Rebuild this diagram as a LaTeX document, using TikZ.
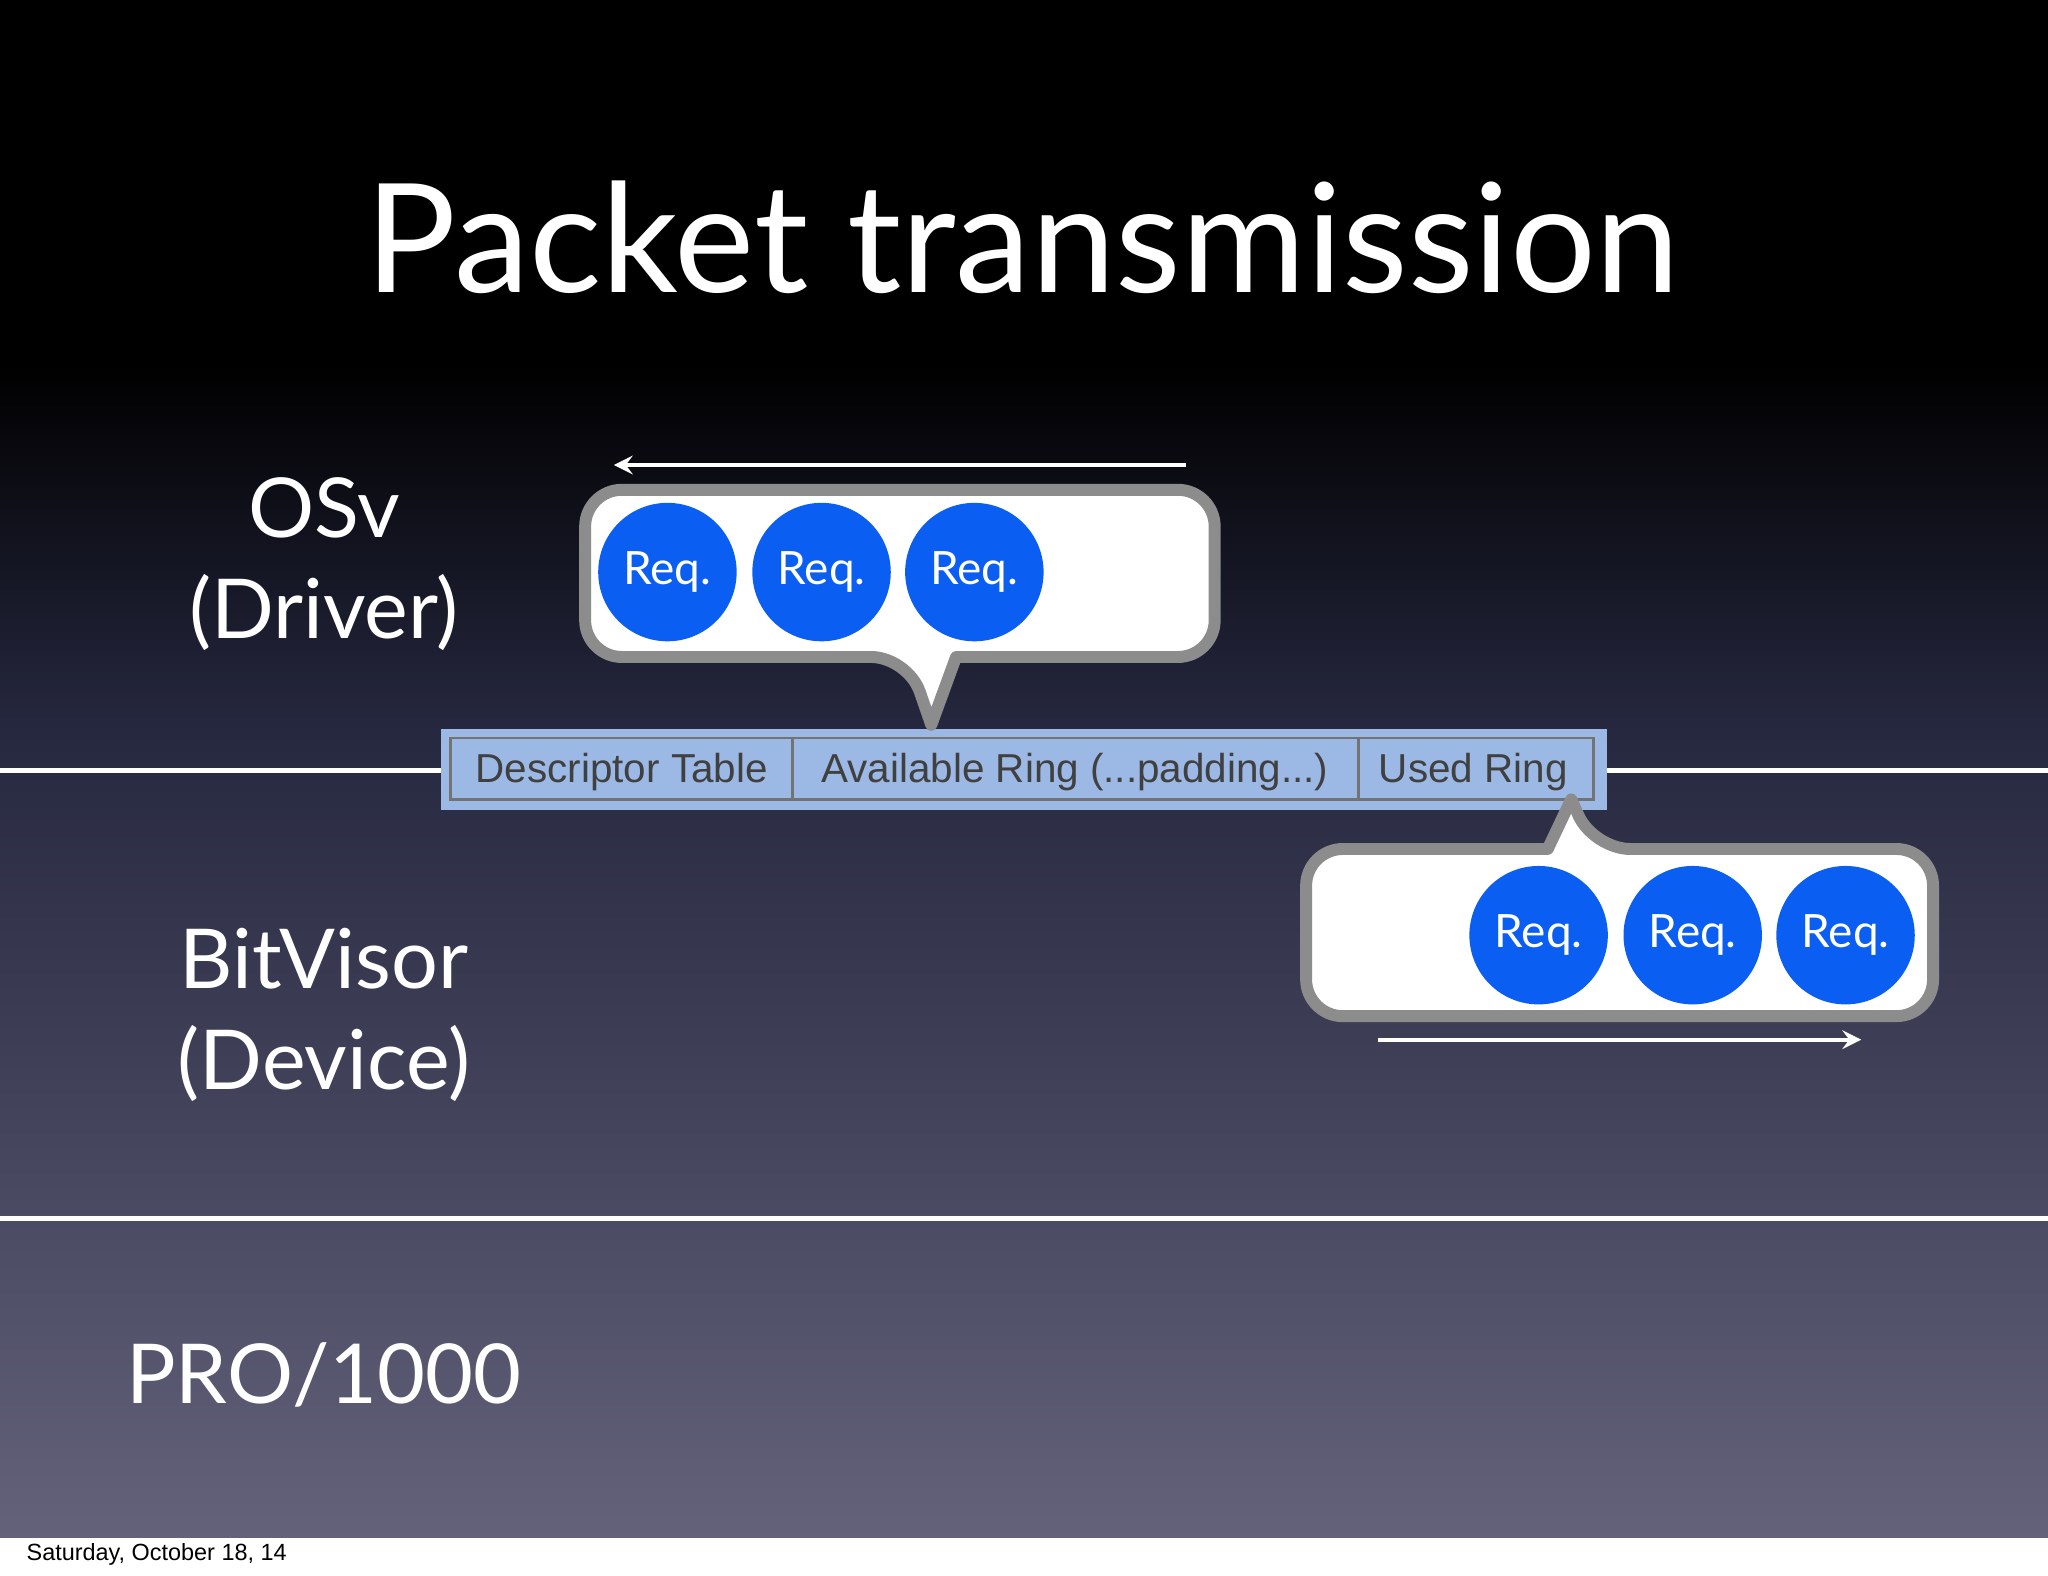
\documentclass[tikz,border=0pt]{standalone}
\usepackage{fontspec}
\setmainfont{Lato}
\newfontfamily\arialf{Liberation Sans}
\begin{document}
\begin{tikzpicture}[x=0.01cm,y=-0.01cm,
  lbl/.style={text=white,font=\fontsize{18}{22}\selectfont,align=center},
  req/.style={circle,fill=reqblue,minimum size=106*0.01cm,inner sep=0pt,text=white,font=\fontsize{10}{12}\selectfont},
  bubble/.style={draw=bubgray,line width=2.6pt,fill=white,line join=round},
  wline/.style={white,line width=0.8pt},
  tabtxt/.style={text=black!75,font=\arialf\fontsize{8.8}{11}\selectfont}]
\definecolor{reqblue}{HTML}{0B5EF2}
\definecolor{bubgray}{HTML}{8C8C8C}
\definecolor{tabblue}{HTML}{9CB9E6}
\definecolor{midc}{HTML}{262840}
\definecolor{botc}{HTML}{63627A}
\useasboundingbox (0,0) rectangle (1568,1206);
\fill[white] (0,0) rectangle (1568,1206);
\fill[black] (0,0) rectangle (1568,280);
\shade[top color=black,bottom color=midc] (0,279) rectangle (1568,560);
\shade[top color=midc,bottom color=botc] (0,559) rectangle (1568,1177);
\node[text=white,font=\fontsize{33}{38}\selectfont] (title) at (783,182) {Packet transmission};
\node[lbl] (osv) at (248,432) {OSv\\(Driver)};
\node[lbl] (bv) at (248,777) {BitVisor\\(Device)};
\node[lbl] (pro) at (248,1053) {PRO/1000};
\node[anchor=west,font=\arialf\fontsize{5.1}{6}\selectfont] (date) at (8,1190) {Saturday, October 18, 14};
% horizontal lines
\coordinate (l1a) at (0,590); \coordinate (l1b) at (338,590);
\coordinate (l1c) at (1230,590); \coordinate (l1d) at (1568,590);
\coordinate (l2a) at (0,933); \coordinate (l2b) at (1568,933);
\draw[white,line width=1pt] (l1a)--(l1b) (l1c)--(l1d) (l2a)--(l2b);
% table
\fill[tabblue] (338,558) rectangle (1230,620);
\draw[black!55,line width=0.6pt] (345,565) rectangle (1220,612);
\draw[black!55,line width=0.6pt] (607,565)--(607,612) (1040,565)--(1040,612);
\node[tabtxt] (dt) at (476,591) {Descriptor Table};
\node[tabtxt] (ar) at (823,591) {Available Ring (...padding...)};
\node[tabtxt] (ur) at (1128,591) {Used Ring};
% bubble 1
\draw[bubble] (732,503) [rounded corners=8pt] -- (930,503) -- (930,375) -- (448,375) -- (448,503) -- (695,503) [sharp corners] -- (713,555) -- cycle;
\node[req] (r1) at (511,438) {Req.};
\node[req] (r2) at (629,438) {Req.};
\node[req] (r3) at (746,438) {Req.};
\coordinate (a1s) at (908,356); \coordinate (a1e) at (470,356);
\draw[wline,->,>=stealth] (a1s)--(a1e);
% bubble 2
\draw[bubble] (1185,650) [rounded corners=8pt] -- (1000,650) -- (1000,778) -- (1480,778) -- (1480,650) -- (1220,650) [sharp corners] -- (1203,612) -- cycle;
\node[req] (r4) at (1178,716) {Req.};
\node[req] (r5) at (1296,716) {Req.};
\node[req] (r6) at (1413,716) {Req.};
\coordinate (a2s) at (1055,796); \coordinate (a2e) at (1425,796);
\draw[wline,->,>=stealth] (a2s)--(a2e);
\end{tikzpicture}
\end{document}
